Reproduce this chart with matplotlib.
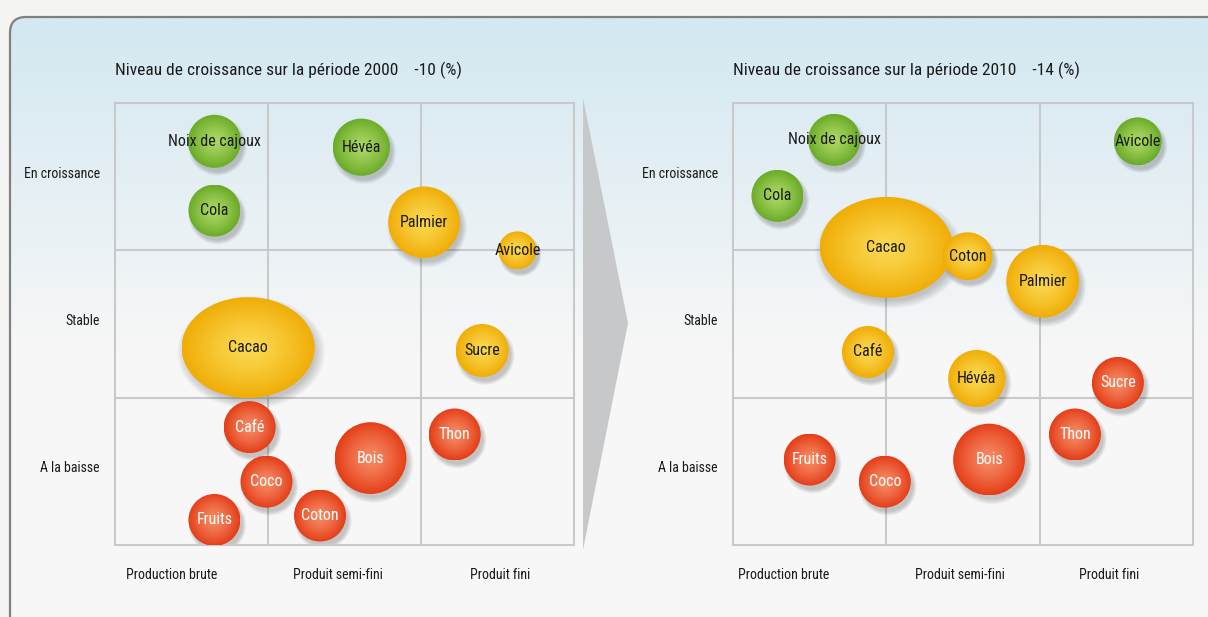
import numpy as np
import matplotlib
matplotlib.use("Agg")
import matplotlib.pyplot as plt
from matplotlib import font_manager
from matplotlib.patches import Ellipse, FancyBboxPatch, Polygon
from matplotlib.colors import to_rgb

# police étroite si disponible
dispo = {f.name for f in font_manager.fontManager.ttflist}
police = "DejaVu Sans"
for nom in ["Liberation Sans Narrow", "DejaVu Sans Condensed", "Roboto Condensed",
            "Liberation Sans", "Arial"]:
    if nom in dispo:
        police = nom
        break
plt.rcParams['font.family'] = [police, 'DejaVu Sans']

# =========================
# DONNÉES
# =========================
lignes = ["En croissance", "Stable", "A la baisse"]
colonnes = ["Production brute", "Produit semi-fini", "Produit fini"]

titre_2000 = "Niveau de croissance sur la période 2000    -10 (%)"
titre_2010 = "Niveau de croissance sur la période 2010    -14 (%)"

# position : x = stade de production (0-3), y = niveau de croissance (0-3)
# taille relative (1 = bulle standard), état = couleur
noms_2000 = ["Noix de cajoux", "Hévéa", "Cola", "Palmier", "Avicole", "Cacao",
             "Sucre", "Café", "Thon", "Bois", "Coco", "Coton", "Fruits"]
x_2000 = [0.65, 1.61, 0.65, 2.02, 2.63, 0.87, 2.40, 0.88, 2.22, 1.67, 0.99, 1.34, 0.65]
y_2000 = [2.74, 2.70, 2.27, 2.19, 2.00, 1.34, 1.32, 0.80, 0.75, 0.59, 0.43, 0.20, 0.17]
larg_2000 = [1.02, 1.10, 1.00, 1.38, 0.73, 2.56, 1.02, 1.00, 1.00, 1.38, 1.00, 1.00, 1.00]
haut_2000 = [1.02, 1.10, 1.00, 1.38, 0.73, 1.94, 1.02, 1.00, 1.00, 1.38, 1.00, 1.00, 1.00]
etat_2000 = ["croissance", "croissance", "croissance", "stable", "stable", "stable",
             "stable", "baisse", "baisse", "baisse", "baisse", "baisse", "baisse"]

noms_2010 = ["Noix de cajoux", "Cola", "Avicole", "Cacao", "Coton", "Palmier",
             "Café", "Hévéa", "Sucre", "Thon", "Fruits", "Coco", "Bois"]
x_2010 = [0.66, 0.29, 2.64, 1.00, 1.53, 2.02, 0.88, 1.59, 2.51, 2.23, 0.50, 0.99, 1.67]
y_2010 = [2.75, 2.37, 2.74, 2.02, 1.96, 1.79, 1.31, 1.13, 1.10, 0.75, 0.58, 0.43, 0.58]
larg_2010 = [1.00, 1.00, 0.92, 2.56, 0.96, 1.40, 1.00, 1.10, 1.00, 1.00, 1.00, 1.00, 1.38]
haut_2010 = [1.00, 1.00, 0.92, 1.94, 0.92, 1.40, 1.00, 1.10, 1.00, 1.00, 1.00, 1.00, 1.38]
etat_2010 = ["croissance", "croissance", "croissance", "stable", "stable", "stable",
             "stable", "stable", "baisse", "baisse", "baisse", "baisse", "baisse"]

# =========================
# STYLES
# =========================
couleurs = {
    "croissance": ("#6aab28", "#acd763", "#1a1a1a"),
    "stable": ("#f0ad06", "#fbd850", "#1a1a1a"),
    "baisse": ("#e43e18", "#f68a64", "white"),
}
W, H = 1208, 617
D0 = 52  # diamètre en px d'une bulle standard
narrow = police in ("Liberation Sans Narrow", "DejaVu Sans Condensed", "Roboto Condensed")
fs_titre = 12.5 if narrow else 11
fs_bulle = 11.5 if narrow else 10.3
fs_axe = 10 if narrow else 9


def px_fig(x0, y0, x1, y1):
    return [x0 / W, (H - y1) / H, (x1 - x0) / W, (y1 - y0) / H]


fig = plt.figure(figsize=(W / 100, H / 100), dpi=100)
fig.patch.set_facecolor("#f4f4f2")

# =========================
# FOND (cadre + dégradé + flèche)
# =========================
fond = fig.add_axes([0, 0, 1, 1])
fond.set_xlim(0, W)
fond.set_ylim(H, 0)
fond.axis("off")

haut = np.array(to_rgb("#d3e8f1"))
bas = np.array(to_rgb("#f7f7f7"))
yy = np.arange(H)
t = np.clip((yy - 20) / 330, 0, 1)[:, None]
grad = (1 - t) * haut + t * bas
img = fond.imshow(grad[:, None, :], extent=[0, W, H, 0], aspect="auto",
                  interpolation="bilinear", zorder=0)
cadre = FancyBboxPatch((10, 17), 1260, 700, boxstyle="round,pad=0,rounding_size=16",
                       fc="none", ec="#808080", lw=1.6, zorder=1)
fond.add_patch(cadre)
img.set_clip_path(cadre)

fond.add_patch(Polygon([(583, 98), (628, 323), (583, 550)], closed=True,
                       fc="#c7c8ca", ec="none", zorder=1))


# =========================
# PANNEAUX
# =========================
def panneau(rect, titre, noms, xs, ys, larg, haut_, etats, pos_col):
    ax = fig.add_axes(px_fig(*rect))
    ax.set_xlim(0, 3)
    ax.set_ylim(0, 3)
    ax.patch.set_visible(False)
    ax.set_xticks([])
    ax.set_yticks([])
    for s in ax.spines.values():
        s.set_color("#c9c9c9")
        s.set_linewidth(1.5)
    for v in (1, 2):
        ax.axvline(v, color="#c9c9c9", lw=1.5, zorder=1)
        ax.axhline(v, color="#c9c9c9", lw=1.5, zorder=1)

    ux = (rect[2] - rect[0]) / 3.0
    uy = (rect[3] - rect[1]) / 3.0

    u = np.linspace(-1, 1, 90)
    X, Y = np.meshgrid(u, u)
    r = np.clip(np.hypot(X, Y), 0, 1)
    tt = (r ** 1.3)[..., None]

    for nom, x, y, lw_, lh, etat in zip(noms, xs, ys, larg, haut_, etats):
        bord, centre, txt = couleurs[etat]
        w = lw_ * D0 / ux
        h = lh * D0 / uy
        # ombre
        for k in range(7):
            f = 0.96 + 0.025 * k
            ax.add_patch(Ellipse((x + 3 / ux, y - 5 / uy), w * f, h * f,
                                 fc="#404040", ec="none", alpha=0.045, zorder=2))
        # dégradé radial
        rgb = (1 - tt) * np.array(to_rgb(centre)) + tt * np.array(to_rgb(bord))
        im = ax.imshow(rgb, extent=[x - w / 2, x + w / 2, y - h / 2, y + h / 2],
                       aspect="auto", interpolation="bilinear", zorder=3)
        clip = Ellipse((x, y), w, h, fc="none", ec="none")
        ax.add_patch(clip)
        im.set_clip_path(clip)
        ax.text(x, y, nom, ha="center", va="center", fontsize=fs_bulle,
                color=txt, zorder=5)

    ax.set_xlim(0, 3)
    ax.set_ylim(0, 3)

    ax.text(0, 3 + 33 / uy, titre, ha="left", va="center", fontsize=fs_titre,
            color="#1a1a1a", clip_on=False)
    for i, lab in enumerate(lignes):
        ax.text(-15 / ux, 2.5 - i + 0.02, lab, ha="right", va="center",
                fontsize=fs_axe, color="#1a1a1a", clip_on=False)
    for xc, lab in zip(pos_col, colonnes):
        ax.text(xc, -30 / uy, lab, ha="center", va="center", fontsize=fs_axe,
                color="#1a1a1a", clip_on=False)
    return ax


panneau((115, 103, 574, 545), titre_2000, noms_2000, x_2000, y_2000,
        larg_2000, haut_2000, etat_2000, [0.37, 1.46, 2.52])
panneau((733, 103, 1193, 545), titre_2010, noms_2010, x_2010, y_2010,
        larg_2010, haut_2010, etat_2010, [0.33, 1.48, 2.45])

fig.savefig("out.png", dpi=100, facecolor=fig.get_facecolor())
